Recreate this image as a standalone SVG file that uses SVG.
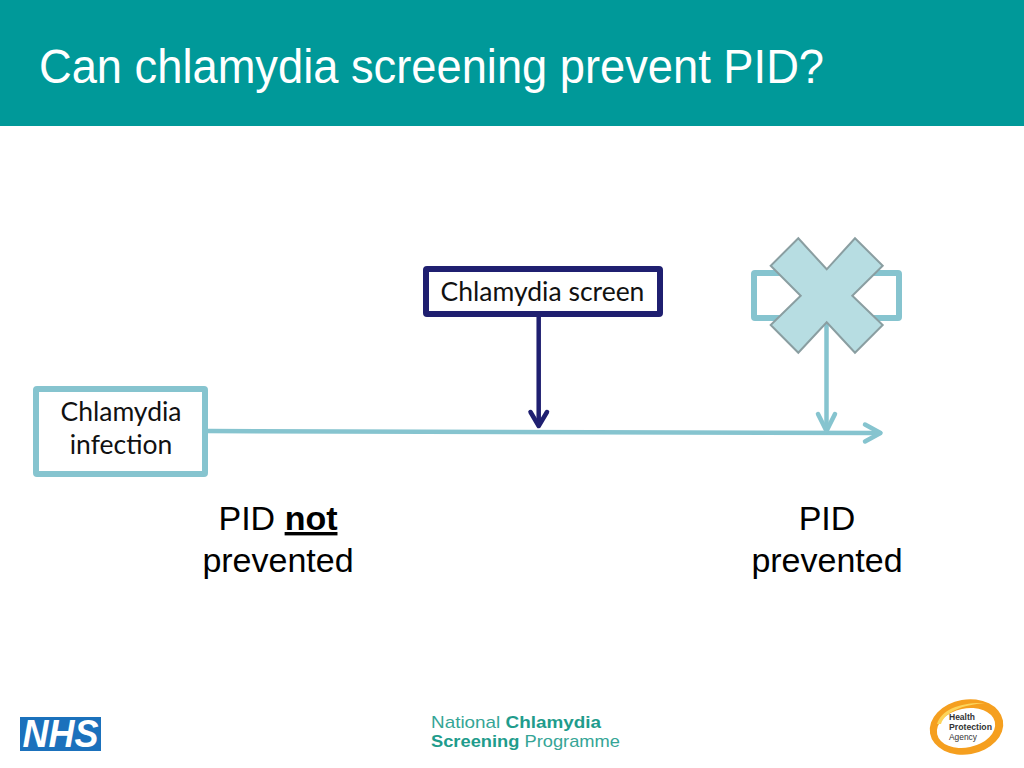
<svg xmlns="http://www.w3.org/2000/svg" width="1024" height="768" viewBox="0 0 1024 768">
<style>
.ar{font-family:"Liberation Sans",Arial,sans-serif}
.la{font-family:Lato,"Open Sans",sans-serif;font-size:26.500px;fill:#111;text-anchor:middle}
.big{font-size:34px;fill:#000;text-anchor:middle}
.tl{fill:none;stroke:#86c4cf;stroke-linecap:round;stroke-linejoin:round}
.nv{fill:none;stroke:#1f1f70;stroke-linecap:round;stroke-linejoin:round}
.box{fill:#fff;stroke-width:6;stroke-linejoin:round}
.os{font-family:"Liberation Sans",Arial,sans-serif;font-size:16.400px;fill:#35a596}
.hp{font-family:"Liberation Sans",Arial,sans-serif;font-size:9px;fill:#333}
</style>
<rect width="1024" height="768" fill="#fff"/>
<g id="header">
<rect width="1024" height="126" fill="#009999"/>
<text class="ar" x="39" y="83" font-size="48" fill="#fff" textLength="785" lengthAdjust="spacingAndGlyphs">Can chlamydia screening prevent PID?</text>
</g>
<g id="connectors">
<path class="tl" stroke-width="4.500" d="M208 431L880 433"/>
<path class="tl" stroke-width="4.500" d="M865 424.500L880.500 433L865 441.500"/>
<path class="tl" stroke-width="4.500" d="M826.500 322V431"/>
<path class="tl" stroke-width="4.500" d="M818 414L826.500 431L835 414"/>
<path class="nv" stroke-width="4.500" d="M538.700 317V425"/>
<path class="nv" stroke-width="4.500" d="M530.500 412L538.700 426L547 412"/>
</g>
<g id="node-infection">
<rect class="box" x="36" y="389" width="169" height="85" rx="1" stroke="#86c4cf"/>
<text class="la" x="121" y="421">Chlamydia</text>
<text class="la" x="121" y="454">infection</text>
</g>
<g id="node-screen">
<rect class="box" x="426" y="269" width="234" height="45" rx="1" stroke="#1f1f70"/>
<text class="la" x="542.500" y="301">Chlamydia screen</text>
</g>
<g id="node-crossed">
<rect class="box" x="754" y="273" width="145" height="45" rx="1" stroke="#86c4cf"/>
<polygon points="798.300,238.300 826.700,269.300 855,238.300 882.700,265.700 852.300,295.700 882.700,325 855,352.700 826.700,322.300 798.300,352.700 770.700,325 800.700,295.700 770.700,265.700" fill="#b7dde2" stroke="#8a9ea1" stroke-width="2"/>
</g>
<g id="label-not-prevented">
<text class="ar big" x="278" y="530">PID <tspan font-weight="bold" text-decoration="underline">not</tspan></text>
<text class="ar big" x="278" y="572">prevented</text>
</g>
<g id="label-prevented">
<text class="ar big" x="827" y="530">PID</text>
<text class="ar big" x="827" y="572">prevented</text>
</g>
<g id="logo-nhs">
<rect x="20" y="717" width="81" height="34" fill="#1b71bc"/>
<text class="ar" x="60.500" y="746.500" font-size="38" font-weight="bold" font-style="italic" fill="#fff" text-anchor="middle" textLength="76" lengthAdjust="spacingAndGlyphs">NHS</text>
</g>
<g id="logo-ncsp">
<text class="os" x="431" y="728" textLength="170" lengthAdjust="spacingAndGlyphs">National <tspan font-weight="700" fill="#1f9c8c">Chlamydia</tspan></text>
<text class="os" x="431" y="747" textLength="189" lengthAdjust="spacingAndGlyphs"><tspan font-weight="700" fill="#1f9c8c">Screening</tspan> Programme</text>
</g>
<g id="logo-hpa">
<ellipse cx="966.500" cy="727" rx="37" ry="27.500" transform="rotate(-10 966.500 727)" fill="#f59f1f"/>
<ellipse cx="966" cy="728" rx="29.500" ry="19.500" transform="rotate(-12 966 728)" fill="#fff"/>
<path d="M937 724C941 710 960 702 985 703C962 705 945 712 941 724Z" fill="#fcd45a"/>
<text class="hp" x="949" y="720" font-weight="bold" textLength="26" lengthAdjust="spacingAndGlyphs">Health</text>
<text class="hp" x="949" y="730" font-weight="bold" textLength="43" lengthAdjust="spacingAndGlyphs">Protection</text>
<text class="hp" x="949" y="739.500" textLength="28" lengthAdjust="spacingAndGlyphs">Agency</text>
</g>
</svg>
